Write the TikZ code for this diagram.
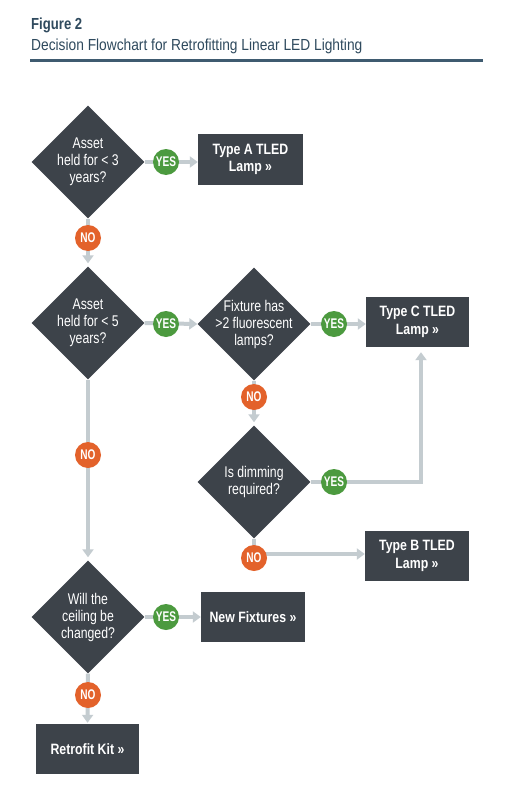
\documentclass[tikz,border=0pt]{standalone}
\usepackage{fontspec}
\setmainfont{Liberation Sans}[FakeStretch=0.79, BoldFeatures={FakeStretch=0.82}]
\newfontfamily\titlefont{Liberation Sans}[FakeStretch=0.86, BoldFeatures={FakeStretch=0.82}]
\newfontfamily\badgefont{Liberation Sans}[FakeStretch=0.72]
\usetikzlibrary{shapes.geometric,arrows.meta}
\definecolor{darkbox}{HTML}{3D434A}
\definecolor{connc}{HTML}{C4CCD0}
\definecolor{yesg}{HTML}{4C9A3F}
\definecolor{noo}{HTML}{E3622B}
\definecolor{titlec}{HTML}{2F4A5E}
\definecolor{rulec}{HTML}{3F5B70}
\begin{document}
\begin{tikzpicture}[x=1pt,y=-1pt,
 dia/.style={diamond, aspect=1, fill=darkbox, minimum width=113pt, minimum height=113pt, inner sep=0pt},
 dtext/.style={text=white, align=center, inner sep=0pt, font=\fontsize{15.5}{17}\selectfont},
 box/.style={rectangle, fill=darkbox, minimum width=104pt, minimum height=50pt, text=white, align=center, font=\bfseries\fontsize{15}{17.5}\selectfont, inner sep=0pt},
 badge/.style={circle, minimum size=26pt, inner sep=0pt, text=white, font=\badgefont\bfseries\fontsize{14}{14}\selectfont},
 yes/.style={badge, fill=yesg},
 no/.style={badge, fill=noo},
 connline/.style={draw=connc, line width=4pt},
 arr/.style={connline, -{Triangle[width=11pt,length=8pt]}}
]
\useasboundingbox[fill=white] (0,0) rectangle (513,800);
% header
\node[anchor=base west, text=titlec, font=\titlefont\bfseries\fontsize{16}{16}\selectfont, inner sep=0pt] (fig) at (31,30) {Figure 2};
\node[anchor=base west, text=titlec, font=\titlefont\fontsize{16}{16}\selectfont, inner sep=0pt] (sub) at (31,51) {Decision Flowchart for Retrofitting Linear LED Lighting};
\draw[rulec, line width=3pt] (30,61) -- (483,61);
% diamonds
\node[dia] (d1) at (88,162) {};
\node[dtext] at (d1) {Asset\\held for < 3\\years?};
\node[dia] (d2) at (88,323) {};
\node[dtext] at (d2) {Asset\\held for < 5\\years?};
\node[dia] (d3) at (254,324) {};
\node[dtext] at (d3) {Fixture has\\>2 fluorescent\\lamps?};
\node[dia] (d4) at (254,482) {};
\node[dtext] at (d4) {Is dimming\\required?};
\node[dia] (d5) at (88,617) {};
\node[dtext] at (d5) {Will the\\ceiling be\\changed?};
% boxes
\node[box, minimum width=105pt, minimum height=51pt] (bA) at (250.5,159.5) {Type A TLED\\Lamp »};
\node[box, minimum width=103pt] (bC) at (417.5,322) {Type C TLED\\Lamp »};
\node[box] (bB) at (417,556) {Type B TLED\\Lamp »};
\node[box] (bN) at (253,617) {New Fixtures »};
\node[box, minimum width=103pt] (bR) at (87.5,749) {Retrofit Kit »};
% connectors
\draw[arr] (d1.east) -- (d1.east -| bA.west);
\draw[arr, shorten >=3pt] (d1.south) -- (d2.north);
\draw[arr] (d2.east) -- (d3.west);
\draw[arr] (d3.east) -- (d3.east -| bC.west);
\draw[arr, shorten >=3pt] (d3.south) -- (d4.north);
\draw[arr, shorten >=5pt] (d4.east) -| ([xshift=3.5pt]bC.south);
\draw[arr] (d4.south) |- ([yshift=2pt]bB.west);
\draw[arr, shorten >=3pt] (d2.south) -- (d5.north);
\draw[arr] (d5.east) -- (d5.east -| bN.west);
\draw[arr, shorten >=1pt] (d5.south) -- (bR.north);
% badges
\node[yes] (y1) at (166,162) {YES};
\node[no] (n1) at (88,238) {NO};
\node[yes] (y2) at (166,324) {YES};
\node[yes] (y3) at (334,324) {YES};
\node[no] (n3) at (254,397) {NO};
\node[yes] (y4) at (334,482) {YES};
\node[no] (n4) at (254,558) {NO};
\node[no] (n2) at (88,455) {NO};
\node[yes] (y5) at (166,617) {YES};
\node[no] (n5) at (88,695) {NO};
\end{tikzpicture}
\end{document}
